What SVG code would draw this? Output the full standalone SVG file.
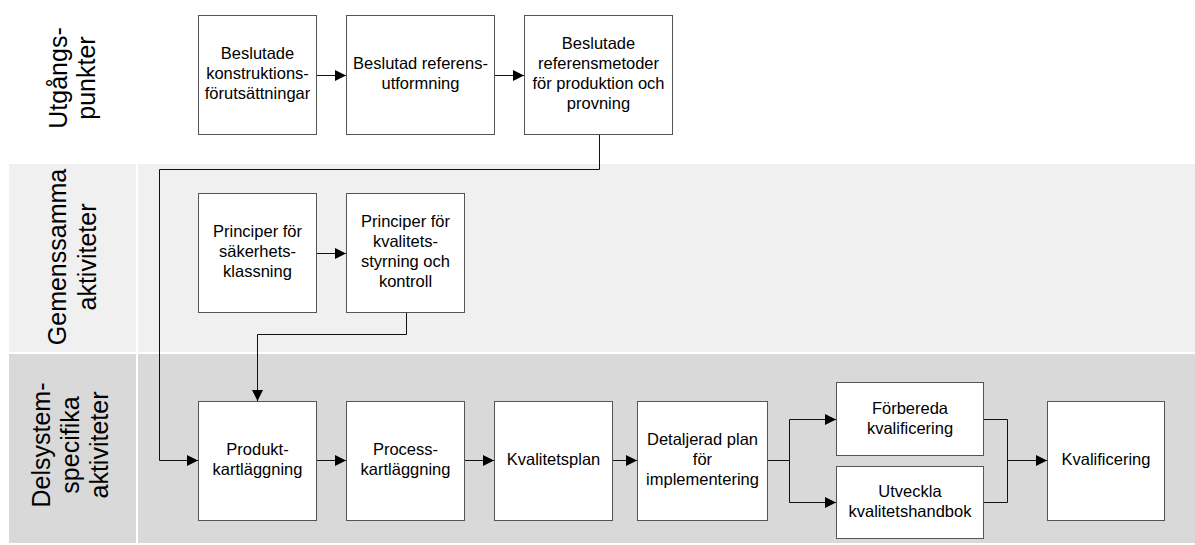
<svg xmlns="http://www.w3.org/2000/svg" width="1195" height="545" viewBox="0 0 1195 545">
<defs>
<marker id="arr" markerUnits="userSpaceOnUse" markerWidth="11" markerHeight="11" refX="11" refY="5.5" orient="auto">
<path d="M0,0 L11,5.5 L0,11 z" fill="#000"/>
</marker>
<style>
.box{fill:#fff;stroke:#555;stroke-width:1}
.t{font-family:"Liberation Sans",Arial,sans-serif;font-size:16.5px;fill:#000;text-anchor:middle}
.lane{font-family:"Liberation Sans",Arial,sans-serif;font-size:25px;fill:#000;text-anchor:middle}
.c{fill:none;stroke:#111;stroke-width:1}
.ca{fill:none;stroke:#111;stroke-width:1;marker-end:url(#arr)}
</style>
</defs>
<rect width="1195" height="545" fill="#fff"/>
<g id="bands">
<rect x="9" y="164" width="127" height="188" fill="#f0f0f0"/>
<rect x="138" y="164" width="1057" height="188" fill="#f0f0f0"/>
<rect x="9" y="354" width="127" height="189" fill="#d9d9d9"/>
<rect x="138" y="354" width="1057" height="189" fill="#d9d9d9"/>
</g>
<g id="lane-utgangspunkter" transform="translate(0,78) rotate(-90)">
<text class="lane" x="0" y="67">Utgångs-</text>
<text class="lane" x="0" y="95">punkter</text>
</g>
<g id="lane-gemensamma" transform="translate(0,257) rotate(-90)">
<text class="lane" x="0" y="66">Gemenssamma</text>
<text class="lane" x="0" y="96">aktiviteter</text>
</g>
<g id="lane-delsystem" transform="translate(0,445) rotate(-90)">
<text class="lane" x="0" y="50">Delsystem-</text>
<text class="lane" x="0" y="79">specifika</text>
<text class="lane" x="0" y="108">aktiviteter</text>
</g>
<g id="connectors">
<path class="ca" d="M317,75.5 H346"/>
<path class="ca" d="M495,75.5 H524"/>
<path class="ca" d="M599.5,134 V169.5 H159.5 V460.5 H198"/>
<path class="ca" d="M317,253.5 H346"/>
<path class="ca" d="M406.5,312 V334.5 H257.5 V401"/>
<path class="ca" d="M317,460.5 H346"/>
<path class="ca" d="M465,460.5 H494"/>
<path class="ca" d="M613,460.5 H637"/>
<path class="ca" d="M768,460.5 H789.5 V419.5 H836"/>
<path class="ca" d="M789.5,460.5 V502.5 H836"/>
<path class="c" d="M984,419.5 H1007.5 V502.5 H984"/>
<path class="ca" d="M1007.5,460.5 H1047"/>
</g>
<g id="n1">
<rect class="box" x="198.5" y="15.5" width="118" height="119"/>
<text class="t" x="257.5" y="59">Beslutade</text>
<text class="t" x="257.5" y="79">konstruktions-</text>
<text class="t" x="257.5" y="99">förutsättningar</text>
</g>
<g id="n2">
<rect class="box" x="346.5" y="15.5" width="148" height="119"/>
<text class="t" x="420.5" y="69">Beslutad referens-</text>
<text class="t" x="420.5" y="89">utformning</text>
</g>
<g id="n3">
<rect class="box" x="524.5" y="15.5" width="148" height="119"/>
<text class="t" x="598.5" y="49">Beslutade</text>
<text class="t" x="598.5" y="69">referensmetoder</text>
<text class="t" x="598.5" y="89">för produktion och</text>
<text class="t" x="598.5" y="109">provning</text>
</g>
<g id="n4">
<rect class="box" x="198.5" y="193.5" width="118" height="119"/>
<text class="t" x="257.5" y="237">Principer för</text>
<text class="t" x="257.5" y="257">säkerhets-</text>
<text class="t" x="257.5" y="277">klassning</text>
</g>
<g id="n5">
<rect class="box" x="346.5" y="193.5" width="118" height="119"/>
<text class="t" x="405.5" y="227">Principer för</text>
<text class="t" x="405.5" y="247">kvalitets-</text>
<text class="t" x="405.5" y="267">styrning och</text>
<text class="t" x="405.5" y="287">kontroll</text>
</g>
<g id="n6">
<rect class="box" x="198.5" y="401.5" width="118" height="119"/>
<text class="t" x="257.5" y="455">Produkt-</text>
<text class="t" x="257.5" y="475">kartläggning</text>
</g>
<g id="n7">
<rect class="box" x="346.5" y="401.5" width="118" height="119"/>
<text class="t" x="405.5" y="455">Process-</text>
<text class="t" x="405.5" y="475">kartläggning</text>
</g>
<g id="n8">
<rect class="box" x="494.5" y="401.5" width="118" height="119"/>
<text class="t" x="553.5" y="465">Kvalitetsplan</text>
</g>
<g id="n9">
<rect class="box" x="637.5" y="401.5" width="130" height="119"/>
<text class="t" x="702.5" y="445">Detaljerad plan</text>
<text class="t" x="702.5" y="465">för</text>
<text class="t" x="702.5" y="485">implementering</text>
</g>
<g id="n10">
<rect class="box" x="836.5" y="382.5" width="147" height="73"/>
<text class="t" x="910" y="414">Förbereda</text>
<text class="t" x="910" y="434">kvalificering</text>
</g>
<g id="n11">
<rect class="box" x="836.5" y="466.5" width="147" height="72"/>
<text class="t" x="910" y="497">Utveckla</text>
<text class="t" x="910" y="517">kvalitetshandbok</text>
</g>
<g id="n12">
<rect class="box" x="1047.5" y="401.5" width="117" height="119"/>
<text class="t" x="1106" y="465">Kvalificering</text>
</g>
</svg>
